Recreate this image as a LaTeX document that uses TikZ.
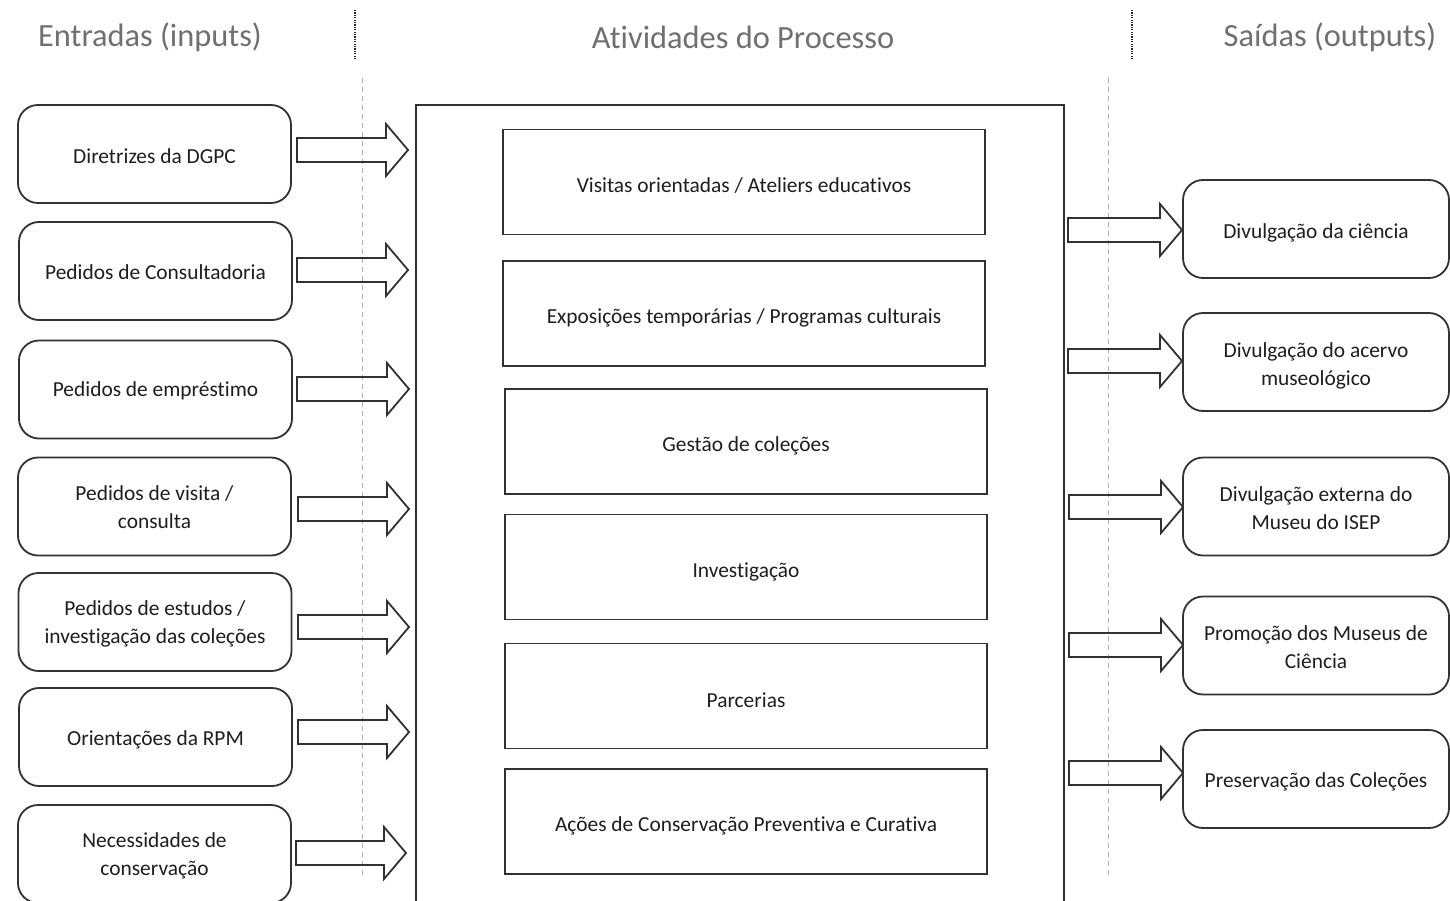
\documentclass[tikz,border=0pt]{standalone}
\usepackage{fontspec}
\setmainfont{Carlito}[Ligatures={NoCommon}]
\definecolor{hdr}{RGB}{112,112,112}
\definecolor{lin}{RGB}{50,50,50}
\definecolor{txt}{RGB}{30,30,30}
\definecolor{dsh}{RGB}{175,175,175}
\newcommand{\blockarrow}[3]{%
  \draw[arrowline] (#1,#3-12) -- (#2-22,#3-12) -- (#2-22,#3-26) -- (#2,#3)
    -- (#2-22,#3+26) -- (#2-22,#3+12) -- (#1,#3+12) -- cycle;}
% box with its text set slightly below the centre
\newcommand{\textbox}[5]{%
  \node[#1] (#2) at (#3) {};
  \node[boxtext] (#2t) at ([yshift=-#4]#2.center) {#5};}
\tikzset{
  boxtext/.style={font=\fontsize{21.4}{28}\selectfont, text=txt, align=center, inner sep=0pt},
  inbox/.style={draw=lin, line width=1.8pt, rounded corners=20pt,
    minimum width=273pt, minimum height=98pt, inner sep=0pt},
  outbox/.style={inbox, minimum width=266pt},
  actbox/.style={draw=lin, line width=1.8pt,
    minimum width=482pt, minimum height=105pt, inner sep=0pt},
  arrowline/.style={draw=lin, line width=1.8pt, line join=miter},
  header/.style={font=\fontsize{32.4}{38}\selectfont, text=hdr},
  sepdots/.style={draw=black!85, line width=2pt, dash pattern=on 1.2pt off 1.2pt},
  sepdash/.style={draw=dsh, line width=1pt, dash pattern=on 5pt off 4pt}
}
\begin{document}
\begin{tikzpicture}[x=1pt,y=-1pt]
\useasboundingbox (0,0) rectangle (1450,901);
\clip (0,0) rectangle (1450,901);
\fill[white] (0,0) rectangle (1450,901);

% headers
\node[header] (hin) at (150,37.5) {Entradas (inputs)};
\node[header] (hact) at (743,37) {Atividades do Processo};
\node[header] (hout) at (1330,37.5) {Saídas (outputs)};

% separators
\coordinate (s1a) at (355,10); \coordinate (s1b) at (355,60);
\coordinate (s2a) at (1132,10); \coordinate (s2b) at (1132,60);
\draw[sepdots] (s1a) -- (s1b);
\draw[sepdots] (s2a) -- (s2b);
\coordinate (d1a) at (362,78); \coordinate (d1b) at (362,878);
\coordinate (d2a) at (1108,78); \coordinate (d2b) at (1108,878);
\draw[sepdash] (d1a) -- (d1b);
\draw[sepdash] (d2a) -- (d2b);

% inputs
\textbox{inbox}{in1}{154.5,154}{2pt}{Diretrizes da DGPC}
\textbox{inbox}{in2}{155.5,271}{1.5pt}{Pedidos de Consultadoria}
\textbox{inbox}{in3}{155.5,389.5}{1.5pt}{Pedidos de empréstimo}
\textbox{inbox}{in4}{154.5,506.5}{1pt}{Pedidos de visita /\\consulta}
\textbox{inbox}{in5}{155,622}{1.5pt}{Pedidos de estudos /\\investigação das coleções}
\textbox{inbox}{in6}{155.5,737}{2.5pt}{Orientações da RPM}
\textbox{inbox}{in7}{154.5,854}{1.5pt}{Necessidades de\\conservação}

% process box
\node[draw=lin, line width=1.8pt, minimum width=648pt, minimum height=800pt, inner sep=0pt] (proc) at (740,505) {};
\textbox{actbox}{a1}{744,182}{4pt}{Visitas orientadas / Ateliers educativos}
\textbox{actbox}{a2}{744,313.5}{4.5pt}{Exposições temporárias / Programas culturais}
\textbox{actbox}{a3}{746,441.5}{4.5pt}{Gestão de coleções}
\textbox{actbox}{a4}{746,567}{5pt}{Investigação}
\textbox{actbox}{a5}{746,696}{4pt}{Parcerias}
\textbox{actbox}{a6}{746,821.5}{4.5pt}{Ações de Conservação Preventiva e Curativa}

% outputs
\textbox{outbox}{o1}{1316,229}{3.5pt}{Divulgação da ciência}
\textbox{outbox}{o2}{1316,362}{3.5pt}{Divulgação do acervo\\museológico}
\textbox{outbox}{o3}{1316,506.5}{1.5pt}{Divulgação externa do\\Museu do ISEP}
\textbox{outbox}{o4}{1316,645.5}{2pt}{Promoção dos Museus de\\Ciência}
\textbox{outbox}{o5}{1316,779}{2.5pt}{Preservação das Coleções}

% input arrows
\blockarrow{297}{408}{150}
\blockarrow{297}{408}{270}
\blockarrow{297}{409}{389}
\blockarrow{298}{409}{509}
\blockarrow{298}{409}{627}
\blockarrow{298}{409}{732}
\blockarrow{296}{406}{853}

% output arrows
\blockarrow{1068}{1182}{230}
\blockarrow{1068}{1182}{361}
\blockarrow{1069}{1183}{507}
\blockarrow{1069}{1183}{645}
\blockarrow{1069}{1183}{773}
\end{tikzpicture}
\end{document}
